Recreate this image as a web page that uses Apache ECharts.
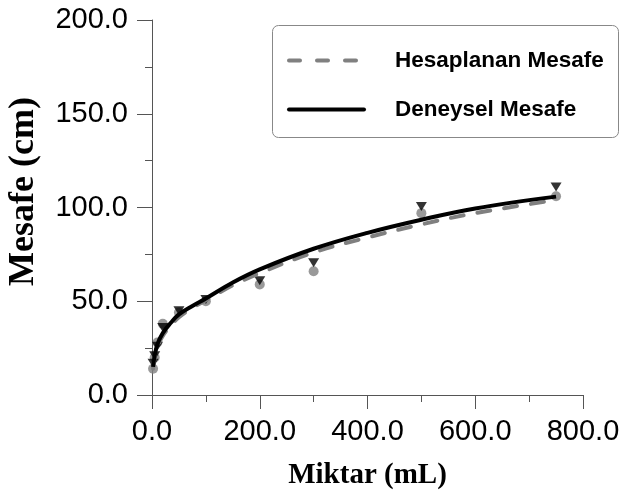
<!DOCTYPE html>
<html>
<head>
<meta charset="utf-8">
<script src="https://cdn.jsdelivr.net/npm/echarts@6/dist/echarts.min.js"></script>
<style>
  html, body { margin: 0; padding: 0; background: #fff; }
  #chart { width: 623px; height: 495px; }
</style>
</head>
<body>
<div id="chart"></div>
<script>
// Measured points: volume (mL) and distance (cm)
const hesaplananPoints = [[2, 14], [5, 20], [10, 28], [20, 38], [50, 44], [100, 50], [200, 59], [300, 66], [500, 97], [750, 106]];
const deneyselPoints   = [[2, 17], [5, 21], [10, 26], [20, 36], [50, 45], [100, 51], [200, 61], [300, 70.5], [500, 100.5], [750, 111]];

// Fitted curves
const curveX          = [2, 5, 10, 20, 35, 50, 75, 100, 150, 200, 300, 400, 500, 600, 750];
const hesaplananCurve = [14, 20, 25.5, 31.5, 37, 41.5, 46.5, 50.5, 58.5, 65, 76, 84, 91, 97, 104];
const deneyselCurve   = [15, 21, 27, 33, 38.5, 43, 47.5, 51.5, 60, 67, 78, 86.5, 93.5, 99.5, 105.8];

const xTicks = [0, 200, 400, 600, 800];
const yTicks = [0, 50, 100, 150, 200];

const legendNames = ['Hesaplanan Mesafe', 'Deneysel Mesafe'];

const pair = (xs, ys) => xs.map((x, i) => [x, ys[i]]);

const axisColor = '#555';
const tickFont = { fontFamily: 'Liberation Sans, Arial, sans-serif', fontSize: 29, color: '#000' };

const chart = echarts.init(document.getElementById('chart'), null, { renderer: 'canvas' });

chart.setOption({
  animation: false,
  backgroundColor: '#fff',
  grid: { left: 152, right: 40, top: 20, bottom: 98 },
  xAxis: {
    type: 'value',
    min: xTicks[0], max: xTicks[xTicks.length - 1], interval: xTicks[1] - xTicks[0],
    name: 'Miktar (mL)',
    nameLocation: 'middle',
    nameGap: 66,
    nameTextStyle: { fontFamily: 'Liberation Serif, Times New Roman, serif', fontWeight: 'bold', fontSize: 29, color: '#000' },
    axisLine: { show: true, onZero: false, lineStyle: { color: axisColor, width: 1 } },
    axisTick: { show: true, length: 14, lineStyle: { color: axisColor } },
    minorTick: { show: true, splitNumber: 2, length: 7, lineStyle: { color: axisColor } },
    splitLine: { show: false },
    axisLabel: Object.assign({ margin: 22, formatter: v => v.toFixed(1) }, tickFont)
  },
  yAxis: {
    type: 'value',
    min: yTicks[0], max: yTicks[yTicks.length - 1], interval: yTicks[1] - yTicks[0],
    axisLine: { show: true, onZero: false, lineStyle: { color: axisColor, width: 1 } },
    axisTick: { show: true, length: 15, lineStyle: { color: axisColor } },
    minorTick: { show: true, splitNumber: 2, length: 7, lineStyle: { color: axisColor } },
    splitLine: { show: false },
    axisLabel: Object.assign({ margin: 24, formatter: v => v.toFixed(1) }, tickFont)
  },
  legend: {
    orient: 'vertical',
    left: 287, top: 49,
    padding: 0,
    itemWidth: 75, itemHeight: 20, itemGap: 26,
    data: [
      { name: legendNames[0], lineStyle: { type: [11, 17] } },
      { name: legendNames[1] }
    ],
    itemStyle: { opacity: 0 },
    lineStyle: { width: 4, cap: 'round' },
    textStyle: {
      fontFamily: 'Liberation Sans, Arial, sans-serif', fontWeight: 'bold', fontSize: 22.5, color: '#000',
      padding: [0, 0, 0, 26]
    },
    z: 10
  },
  graphic: [
    {
      type: 'rect', left: 272, top: 25, z: 5,
      shape: { width: 346, height: 112, r: 6 },
      style: { fill: '#fff', stroke: '#888', lineWidth: 1 }
    },
    {
      type: 'text', left: 6, top: 97, rotation: Math.PI / 2, z: 5,
      style: {
        text: 'Mesafe (cm)',
        font: 'bold 36px "Liberation Serif", "Times New Roman", serif',
        fill: '#000'
      }
    }
  ],
  series: [
    {
      name: 'Hesaplanan Mesafe (ölçüm)',
      type: 'scatter',
      data: hesaplananPoints,
      symbol: 'circle', symbolSize: 10,
      itemStyle: { color: '#808080' },
      z: 1
    },
    {
      name: 'Deneysel Mesafe (ölçüm)',
      type: 'scatter',
      data: deneyselPoints,
      symbol: 'triangle', symbolRotate: 180, symbolSize: [11, 9],
      itemStyle: { color: '#000' },
      z: 2
    },
    {
      name: legendNames[0],
      type: 'line',
      data: pair(curveX, hesaplananCurve),
      smooth: 0.4,
      showSymbol: false, symbol: 'none',
      lineStyle: { color: '#808080', width: 4, type: [13, 14], cap: 'round' },
      itemStyle: { color: '#808080' },
      z: 3
    },
    {
      name: legendNames[1],
      type: 'line',
      data: pair(curveX, deneyselCurve),
      smooth: 0.4,
      showSymbol: false, symbol: 'none',
      lineStyle: { color: '#000', width: 4 },
      itemStyle: { color: '#000' },
      z: 4
    }
  ]
});
</script>
</body>
</html>
